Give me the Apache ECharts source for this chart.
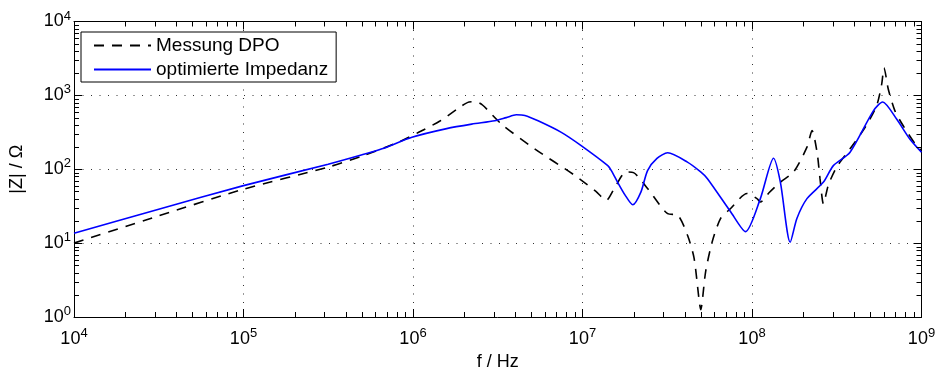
<!DOCTYPE html>
<html>
<head>
<meta charset="utf-8">
<script src="https://cdn.jsdelivr.net/npm/echarts@6/dist/echarts.min.js"></script>
<style>
  html, body { margin: 0; padding: 0; background: #fff; }
  #chart { width: 944px; height: 376px; }
</style>
</head>
<body>
<div id="chart"></div>
<script>
// Measured impedance (DPO) and fitted impedance model, |Z| over frequency
const freqMessung = [1e4, 3.16e4, 1e5, 3.16e5, 5.0e5, 8.2e5, 1.08e6, 1.45e6, 1.94e6, 2.14e6, 2.34e6, 2.57e6,
  3.33e6, 5.22e6, 8.97e6, 1.2e7, 1.38e7, 1.54e7, 1.81e7, 2.0e7, 2.42e7, 3.18e7, 3.64e7, 4.16e7, 4.55e7,
  4.86e7, 4.98e7, 5.33e7, 5.83e7, 6.53e7, 7.48e7, 9.35e7, 1.07e8, 1.12e8, 1.26e8, 1.47e8, 1.76e8, 2.11e8,
  2.26e8, 2.42e8, 2.52e8, 2.64e8, 2.82e8, 3.16e8, 3.79e8, 4.65e8, 5.43e8, 5.82e8, 6.01e8, 6.37e8, 6.97e8,
  7.8e8, 9.33e8, 1e9];
const zMessung = [10, 23.4, 53.7, 107, 151, 232, 316, 453, 721, 813, 822, 741,
  408, 189, 83, 50, 38, 55, 92, 90, 55, 25, 24, 12.9, 6.3,
  1.8, 1.26, 4.15, 10.5, 21.6, 29.4, 47, 40, 36, 48, 67, 92, 199,
  333, 170, 74, 34, 61, 107, 189, 369, 721, 1410, 2366, 1208, 617,
  388, 209, 178];

const freqOptimiert = [1e4, 3.16e4, 1e5, 3.16e5, 5.01e5, 6.56e5, 9.86e5, 1.58e6, 2.22e6, 3.04e6, 3.55e6,
  4.07e6, 4.57e6, 5.47e6, 7.5e6, 9.82e6, 1.41e7, 1.48e7, 1.61e7, 1.78e7, 1.98e7, 2.21e7, 2.42e7, 2.75e7,
  3.18e7, 4.16e7, 4.98e7, 5.46e7, 7.48e7, 9.16e7, 1.12e8, 1.34e8, 1.47e8, 1.68e8, 1.84e8, 2.11e8, 2.64e8,
  3.02e8, 3.79e8, 5.2e8, 5.9e8, 7.13e8, 8.53e8, 1e9];
const zOptimiert = [13.6, 28.8, 60, 117, 157, 189, 271, 355, 408, 453, 500,
  546, 535, 453, 316, 209, 112, 96, 67, 45, 33, 49, 96, 140,
  167, 125, 92, 74.5, 26.6, 14.3, 40, 141, 67, 10.3, 21.6, 40, 67,
  112, 170, 617, 815, 478, 257, 170];

const seriesNames = ['Messung DPO', 'optimierte Impedanz'];
const xRange = [1e4, 1e9];
const yRange = [1e0, 1e4];

const FONT = 'Liberation Sans, Arial, Helvetica, sans-serif';

function zip(xs, ys) { return xs.map((x, i) => [x, ys[i]]); }

// minor tick positions 2..9 within every decade of a log range
function minorTicks(range) {
  const out = [];
  const d0 = Math.round(Math.log10(range[0]));
  const d1 = Math.round(Math.log10(range[1]));
  for (let d = d0; d < d1; d++) {
    for (let m = 2; m <= 9; m++) out.push(m * Math.pow(10, d));
  }
  return out;
}

const powerLabel = v => '{b|10}{e|' + Math.round(Math.log10(v)) + '}';
const labelRich = {
  b: { fontSize: 18, fontFamily: FONT, color: '#000' },
  e: { fontSize: 13, fontFamily: FONT, color: '#000', padding: [0, 0, 11, 0] }
};

function baseAxis(range, extra) {
  return Object.assign({
    type: 'log', logBase: 10, min: range[0], max: range[1],
    splitNumber: 5,
    axisLine: { show: true, onZero: false, lineStyle: { color: '#000', width: 1 } },
    axisTick: { show: true, inside: true, length: 8, lineStyle: { color: '#000', width: 1 } },
    minorTick: { show: false },
    splitLine: { show: false },
    axisLabel: { show: false }
  }, extra);
}

const xMinor = minorTicks(xRange).map(v => [v, yRange[0]]);
const yMinor = minorTicks(yRange).map(v => [xRange[0], v]);

const TICK_MINOR = 5;

const chart = echarts.init(document.getElementById('chart'), null, { renderer: 'canvas' });
chart.setOption({
  backgroundColor: '#fff',
  animation: false,
  grid: { left: 70.5, right: 22.5, top: 21.5, bottom: 56.5, containLabel: false },
  legend: {
    data: seriesNames,
    orient: 'vertical',
    left: 81, top: 32,
    backgroundColor: '#fff',
    borderColor: '#000', borderWidth: 1,
    padding: [4, 8, 3, 12],
    itemWidth: 57, itemHeight: 16, itemGap: 5,
    itemStyle: { opacity: 0 },
    textStyle: { fontSize: 19, fontFamily: FONT, color: '#000' }
  },
  xAxis: [
    baseAxis(xRange, {
      position: 'bottom',
      name: 'f / Hz', nameLocation: 'middle', nameGap: 36,
      nameTextStyle: { fontSize: 18, fontFamily: FONT, color: '#000' },
      axisLabel: { show: true, margin: 10, formatter: powerLabel, rich: labelRich },
      splitLine: { show: true, lineStyle: { color: '#333', width: 1, type: [1, 7.5] } }
    }),
    baseAxis(xRange, { position: 'top' })
  ],
  yAxis: [
    baseAxis(yRange, {
      position: 'left', splitNumber: 4,
      name: '|Z| / Ω', nameLocation: 'middle', nameGap: 48,
      nameTextStyle: { fontSize: 18, fontFamily: FONT, color: '#000' },
      axisLabel: { show: true, margin: 3, formatter: powerLabel, rich: labelRich },
      splitLine: { show: true, lineStyle: { color: '#333', width: 1, type: [1, 7.5] } }
    }),
    baseAxis(yRange, { position: 'right', splitNumber: 4 })
  ],
  series: [
    {
      name: seriesNames[0], type: 'line', xAxisIndex: 0, yAxisIndex: 0,
      data: zip(freqMessung, zMessung),
      symbol: 'none', smooth: 0.25,
      lineStyle: { color: '#000', width: 1.6, type: [10, 8] },
      itemStyle: { color: '#000' },
      z: 3
    },
    {
      name: seriesNames[1], type: 'line', xAxisIndex: 0, yAxisIndex: 0,
      data: zip(freqOptimiert, zOptimiert),
      symbol: 'none', smooth: 0.25,
      lineStyle: { color: '#0000ff', width: 1.6, type: 'solid' },
      itemStyle: { color: '#0000ff' },
      z: 4
    },
    {
      // minor ticks along bottom and top edges
      type: 'custom', xAxisIndex: 0, yAxisIndex: 0, silent: true, clip: false,
      data: xMinor,
      renderItem: function (params, api) {
        const cs = params.coordSys;
        const px = Math.round(api.coord([api.value(0), api.value(1)])[0]) + 0.5;
        const st = { stroke: '#000', lineWidth: 1 };
        return { type: 'group', children: [
          { type: 'line', shape: { x1: px, y1: cs.y + cs.height, x2: px, y2: cs.y + cs.height - TICK_MINOR }, style: st },
          { type: 'line', shape: { x1: px, y1: cs.y, x2: px, y2: cs.y + TICK_MINOR }, style: st }
        ] };
      },
      z: 5
    },
    {
      // minor ticks along left and right edges
      type: 'custom', xAxisIndex: 0, yAxisIndex: 0, silent: true, clip: false,
      data: yMinor,
      renderItem: function (params, api) {
        const cs = params.coordSys;
        const py = Math.round(api.coord([api.value(0), api.value(1)])[1]) + 0.5;
        const st = { stroke: '#000', lineWidth: 1 };
        return { type: 'group', children: [
          { type: 'line', shape: { x1: cs.x, y1: py, x2: cs.x + TICK_MINOR, y2: py }, style: st },
          { type: 'line', shape: { x1: cs.x + cs.width, y1: py, x2: cs.x + cs.width - TICK_MINOR, y2: py }, style: st }
        ] };
      },
      z: 5
    }
  ]
});
</script>
</body>
</html>
